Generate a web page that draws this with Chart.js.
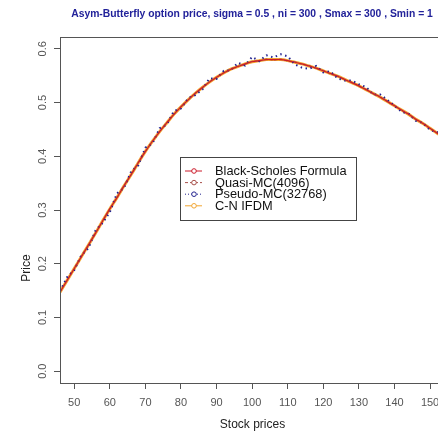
<!DOCTYPE html>
<html>
<head>
<meta charset="utf-8">
<script src="https://cdn.jsdelivr.net/npm/chart.js@4.4.1/dist/chart.umd.min.js"></script>
<style>
html,body{margin:0;padding:0;background:#fff;overflow:hidden;width:438px;height:435px;}
#wrap{position:relative;width:450px;height:435px;}
</style>
</head>
<body>
<div id="wrap"><canvas id="c" width="450" height="435"></canvas></div>
<script>
const titleText = "Asym-Butterfly option price, sigma = 0.5 , ni = 300 , Smax = 300 , Smin = 1";
const xTitle = "Stock prices";
const yTitle = "Price";
const xTicks = [50,60,70,80,90,100,110,120,130,140,150];
const yTicks = [0.0,0.1,0.2,0.3,0.4,0.5,0.6];
const seriesNames = ["Black-Scholes Formula","Quasi-MC(4096)","Pseudo-MC(32768)","C-N IFDM"];

const stockPrices = [46,48,50,52,54,56,58,60,62,64,66,68,70,72,74,76,78,80,82,84,86,88,90,92,94,96,98,100,
  102,104,106,108,110,112,114,116,118,120,122,124,126,128,130,132,134,136,138,140,142,144,146,148,150,152,154];

const blackScholes = [0.147,0.169,0.191,0.213,0.235,0.257,0.280,0.302,0.323,0.345,0.366,0.388,0.409,0.428,
  0.446,0.462,0.478,0.492,0.505,0.517,0.528,0.538,0.547,0.555,0.562,0.567,0.572,0.576,0.578,0.580,0.580,0.580,
  0.578,0.575,0.572,0.568,0.564,0.559,0.554,0.549,0.543,0.537,0.531,0.524,0.517,0.510,0.502,0.494,0.486,0.478,
  0.469,0.461,0.452,0.443,0.434];

const quasiMC = [0.148,0.170,0.190,0.214,0.234,0.258,0.279,0.303,0.322,0.346,0.365,0.389,0.408,0.429,
  0.445,0.463,0.477,0.493,0.504,0.518,0.527,0.539,0.546,0.556,0.561,0.568,0.571,0.577,0.577,0.581,0.579,0.581,
  0.577,0.576,0.571,0.569,0.563,0.560,0.553,0.550,0.542,0.538,0.530,0.525,0.516,0.511,0.501,0.495,0.485,0.479,
  0.468,0.462,0.451,0.444,0.433];

const pseudoMC = [0.149,0.175,0.188,0.216,0.229,0.262,0.276,0.296,0.331,0.341,0.372,0.383,0.416,0.424,
  0.452,0.459,0.484,0.489,0.508,0.514,0.524,0.545,0.544,0.559,0.560,0.574,0.569,0.585,0.577,0.588,0.584,0.590,
  0.586,0.571,0.565,0.563,0.568,0.556,0.558,0.545,0.541,0.541,0.534,0.529,0.515,0.515,0.505,0.494,0.483,0.479,
  0.466,0.462,0.449,0.445,0.432];

const cnIFDM = [0.147,0.169,0.191,0.213,0.235,0.257,0.280,0.302,0.323,0.345,0.366,0.388,0.409,0.428,
  0.446,0.462,0.478,0.492,0.505,0.517,0.528,0.538,0.547,0.555,0.562,0.567,0.572,0.576,0.578,0.580,0.580,0.580,
  0.578,0.575,0.572,0.568,0.564,0.559,0.554,0.549,0.543,0.537,0.531,0.524,0.517,0.510,0.502,0.494,0.486,0.478,
  0.469,0.461,0.452,0.443,0.434];

const toXY = arr => stockPrices.map((s,i)=>({x:s,y:arr[i]}));

const FONT = "'Liberation Sans', Arial, sans-serif";

const decor = {
  id:'decor',
  afterDraw(chart){
    const ctx = chart.ctx, ca = chart.chartArea;
    ctx.save();
    // box
    ctx.strokeStyle = '#555'; ctx.lineWidth = 1;
    ctx.strokeRect(Math.round(ca.left)+0.5, Math.round(ca.top)+0.5, Math.round(ca.right-ca.left), Math.round(ca.bottom-ca.top));
    // title
    let fs = 11;
    ctx.font = `bold ${fs}px ${FONT}`;
    const w = ctx.measureText(titleText).width;
    fs = fs * 362 / w;
    ctx.font = `bold ${fs}px ${FONT}`;
    ctx.fillStyle = '#22229a';
    ctx.textAlign = 'center'; ctx.textBaseline = 'middle';
    ctx.fillText(titleText, 252, 14);
    // y tick labels
    const ys = chart.scales.y;
    ctx.fillStyle = '#555';
    ctx.font = `11px ${FONT}`;
    yTicks.forEach(v=>{
      const py = ys.getPixelForValue(v);
      ctx.save(); ctx.translate(43, py); ctx.rotate(-Math.PI/2);
      ctx.fillText(v.toFixed(1), 0, 0); ctx.restore();
    });
    // y title
    ctx.fillStyle = '#222';
    ctx.font = `12px ${FONT}`;
    ctx.save(); ctx.translate(27, (ca.top+ca.bottom)/2+58); ctx.rotate(-Math.PI/2);
    ctx.fillText(yTitle, 0, 0); ctx.restore();
    // legend
    const lx = 180, ly = 157, lw = 176, lh = 63;
    ctx.fillStyle = '#fff';
    ctx.fillRect(lx, ly, lw, lh);
    ctx.strokeStyle = '#444'; ctx.lineWidth = 1;
    ctx.strokeRect(lx+0.5, ly+0.5, lw, lh);
    chart.data.datasets.forEach((ds,i)=>{
      const yy = ly + 14 + i*11.6;
      ctx.strokeStyle = ds.borderColor;
      ctx.lineWidth = 1;
      ctx.setLineDash(ds.legendDash || []);
      ctx.beginPath(); ctx.moveTo(lx+5, yy); ctx.lineTo(lx+22, yy); ctx.stroke();
      ctx.setLineDash([]);
      ctx.fillStyle = '#fff';
      ctx.beginPath(); ctx.arc(lx+14, yy, 2.3, 0, Math.PI*2); ctx.fill(); ctx.stroke();
      ctx.fillStyle = '#111';
      ctx.font = `12.8px ${FONT}`;
      ctx.textAlign = 'left';
      ctx.fillText(ds.label, lx+35, yy+0.5);
    });
    ctx.restore();
  }
};

new Chart(document.getElementById('c'), {
  type:'line',
  data:{
    datasets:[
      {label:seriesNames[0], data:toXY(blackScholes), borderColor:'#cc1a2a', borderWidth:1.2, pointRadius:0, tension:0.3, legendDash:[]},
      {label:seriesNames[1], data:toXY(quasiMC), borderColor:'#a8504a', borderWidth:1, borderDash:[3,2], pointRadius:0, tension:0.3, legendDash:[3,2]},
      {label:seriesNames[2], data:toXY(pseudoMC), borderColor:'#23238f', borderWidth:2, borderDash:[1.5,3.5], pointRadius:0, tension:0, legendDash:[1,2]},
      {label:seriesNames[3], data:toXY(cnIFDM), borderColor:'#f2a531', borderWidth:3, pointRadius:0, tension:0.3, legendDash:[]}
    ]
  },
  options:{
    responsive:false, animation:false,
    layout:{padding:{left:0, top:37, right:5, bottom:0}},
    plugins:{legend:{display:false}, title:{display:false}, tooltip:{enabled:false}},
    scales:{
      x:{type:'linear', position:'bottom', min:46, max:154.2,
        afterBuildTicks: s => { s.ticks = xTicks.map(v=>({value:v})); },
        afterFit: s => { s.height = 52; },
        grid:{drawOnChartArea:false, tickLength:6, color:'#555', tickColor:'#555'},
        border:{color:'#555'},
        ticks:{font:{family:FONT, size:11}, color:'#555', padding:7, maxRotation:0},
        title:{display:true, text:xTitle, font:{family:FONT, size:12}, color:'#222', padding:{top:0,bottom:3}}
      },
      y:{type:'linear', position:'left', min:-0.022, max:0.622,
        afterBuildTicks: s => { s.ticks = yTicks.map(v=>({value:v})); },
        afterFit: s => { s.width = 60; },
        grid:{drawOnChartArea:false, tickLength:6, color:'#555', tickColor:'#555'},
        border:{color:'#555'},
        ticks:{display:false}
      }
    }
  },
  plugins:[decor]
});
</script>
</body>
</html>
